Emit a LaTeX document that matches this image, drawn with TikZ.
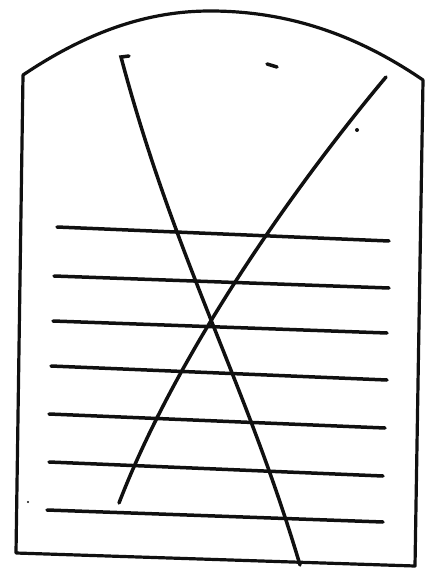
\documentclass[tikz,border=0pt]{standalone}
\usepackage{xcolor}
\usepackage{tikz}
\definecolor{inkc}{HTML}{101010}

\begin{document}
\begin{tikzpicture}[x=1pt,y=-1pt,
  rule/.style={inkc, line width=3.5pt, line cap=round},
  slab/.style={inkc, line width=3.2pt, line join=round}]
  \useasboundingbox (0,0) rectangle (425,569);
  % outline with arched top
  \draw[slab] (23,75) -- (16,553) -- (415,566) -- (423,80)
    .. controls (350,30) and (280,11) .. (210,11)
    .. controls (150,11) and (90,30) .. cycle;
  % ruled lines
  \foreach \xa/\ya/\xb/\yb in {57/227/389/241, 54/276/389/288, 53/321/387/333,
      51/366/387/380, 49/414/385/428, 49/462/383/476, 47/510/383/522}
    \draw[rule] (\xa,\ya) -- (\xb,\yb);
  % the two crossing strokes
  \draw[rule] (129,56) -- (121,57)
    .. controls (175,260) and (245,380) .. (300,565);
  \draw[rule] (386,77) .. controls (298,182) and (178,350) .. (119,503);
  % stray marks
  \draw[rule] (267,64) -- (277,67);
  \fill[inkc] (357,130) circle (2);
  \fill[inkc] (28,502) circle (1.2);
\end{tikzpicture}
\end{document}
